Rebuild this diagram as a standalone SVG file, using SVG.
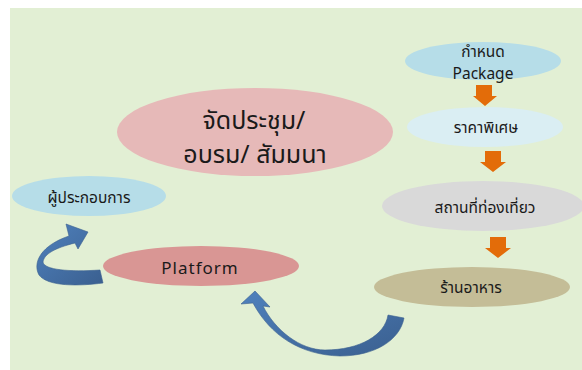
<svg xmlns="http://www.w3.org/2000/svg" width="582" height="370" viewBox="0 0 582 370">
<defs>
<style>
.t{font-family:"Noto Sans","Noto Sans Thai","Tahoma","DejaVu Sans",sans-serif;fill:#1a1a1a;text-anchor:middle}
.s{font-size:15.5px}
.o{fill:#E36C09}
.b{fill:url(#g);stroke:#3A5F8F;stroke-width:0.6}
</style>
<linearGradient id="g" x1="0" y1="0" x2="1" y2="1">
<stop offset="0" stop-color="#4F81BD"/>
<stop offset="1" stop-color="#3A5F8F"/>
</linearGradient>
</defs>
<rect x="0" y="0" width="582" height="370" fill="#ffffff"/>
<rect x="10" y="8" width="572" height="362" fill="#E2EFD4"/>
<g id="connectors">
<path class="o" d="M476,85 H492 V96 H497 L485,106 L473,96 H476 Z"/>
<path class="o" d="M485,151 H501 V162 H506 L493,172 L480,162 H485 Z"/>
<path class="o" d="M490,237 H506 V248 H511 L498,258 L485,248 H490 Z"/>
<path class="b" d="M103,283 C80,286 48,287 39,275 C32,262 42,245 69,236 L66,224 L88,232 L78,249 L75,243 C55,248 44,254 43,262 C44,270 70,272 100,270 Z"/>
<path class="b" d="M404,318 C400,340 375,356 340,356 C300,355 270,335 253,303 L241,304 L255,291 L270,307 L263,306 C275,330 300,350 325,350 C360,350 385,335 388,315 Z"/>
</g>
<g id="meeting">
<ellipse cx="255" cy="132" rx="138" ry="44" fill="#E6B9B8"/>
<text class="t" x="254" y="129" font-size="25">จัดประชุม/</text>
<text class="t" x="255" y="163" font-size="25">อบรม/ สัมมนา</text>
</g>
<g id="package">
<ellipse cx="483" cy="61" rx="78" ry="19" fill="#B6DDE8"/>
<text class="t s" x="483" y="57">กำหนด</text>
<text class="t s" x="483" y="79">Package</text>
</g>
<g id="price">
<ellipse cx="485" cy="127" rx="78" ry="20" fill="#DAEEF3"/>
<text class="t s" x="486" y="133">ราคาพิเศษ</text>
</g>
<g id="place">
<ellipse cx="483" cy="206" rx="101" ry="25" fill="#D9D9D9"/>
<text class="t s" x="485" y="213">สถานที่ท่องเที่ยว</text>
</g>
<g id="food">
<ellipse cx="472" cy="287" rx="98" ry="20" fill="#C4BD97"/>
<text class="t s" x="471" y="293">ร้านอาหาร</text>
</g>
<g id="operator">
<ellipse cx="89" cy="196" rx="77" ry="20" fill="#B6DDE8"/>
<text class="t s" x="89" y="203">ผู้ประกอบการ</text>
</g>
<g id="platform">
<ellipse cx="201" cy="266" rx="98" ry="20" fill="#D99694"/>
<text class="t" x="200" y="274" font-size="17" letter-spacing="1">Platform</text>
</g>
</svg>
